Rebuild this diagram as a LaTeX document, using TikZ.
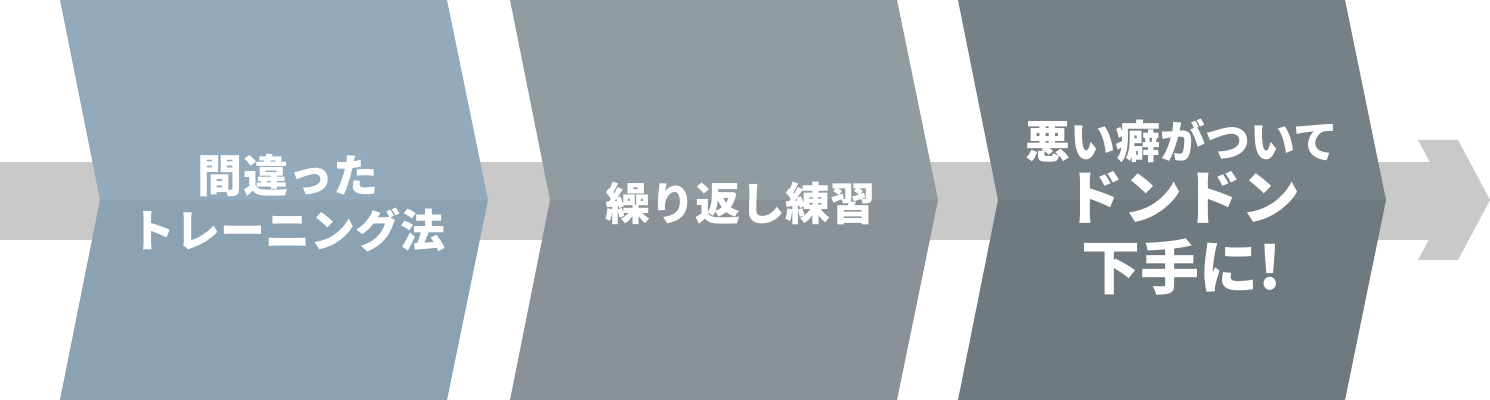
\documentclass[tikz,border=0pt]{standalone}
\usepackage{fontspec}
\setmainfont{Noto Sans CJK JP}[BoldFont={Noto Sans CJK JP Black}]
\usetikzlibrary{positioning}
\definecolor{barg}{HTML}{C9C9C9}
\definecolor{oneT}{HTML}{93AABC}
\definecolor{oneB}{HTML}{8BA2B2}
\definecolor{twoT}{HTML}{919CA1}
\definecolor{twoB}{HTML}{8A9198}
\definecolor{thrT}{HTML}{768187}
\definecolor{thrB}{HTML}{6E7A7F}
\begin{document}
\begin{tikzpicture}[x=0.5bp, y=-0.5bp,
    steptext/.style={text=white, font=\bfseries\fontsize{22.5bp}{27.5bp}\selectfont, align=center, inner sep=0pt},
    bigtext/.style={font=\bfseries\fontsize{29.5bp}{35bp}\selectfont}]
    \useasboundingbox (0,0) rectangle (1490,400);
    \fill[barg](0,162) rectangle (1455,240);
    \fill[barg](1418,140)--(1458,140)--(1490,200)--(1458,260)--(1418,260)--(1450,200)--cycle;
    \foreach \l/\c in {60/one, 510/two, 958/thr}{
        \fill[\c T](\l,0)--(\l+387,0)--(\l+428,200)--(\l+40,200)--cycle;
        \fill[\c B](\l+40,200)--(\l+428,200)--(\l+387,400)--(\l,400)--cycle;
    }
    \node[steptext] (t1) at (288,203) {間違った\\トレーニング法};
    \node[steptext] (t2) at (740,203) {繰り返し練習};
    \node[steptext] (t3) at (1182,141) {悪い癖がついて};
    \node[steptext, bigtext, below=4bp of t3] (t4) {ドンドン\\下手に!};
\end{tikzpicture}
\end{document}
